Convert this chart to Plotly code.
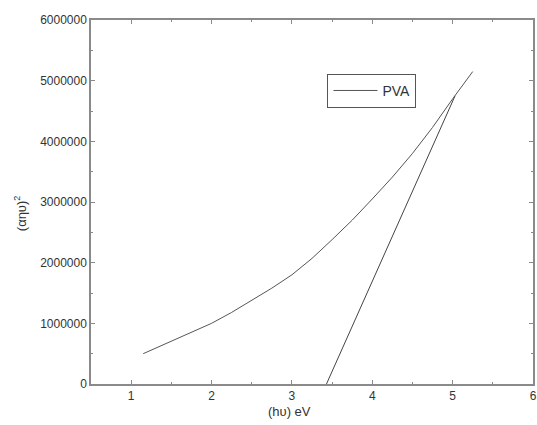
import plotly.graph_objects as go

# Tauc plot data for PVA film
photon_energy = [1.15, 1.3, 1.5, 1.75, 2.0, 2.25, 2.5, 2.75, 3.0, 3.25, 3.5, 3.75, 4.0, 4.25, 4.5, 4.75, 5.0, 5.25]
alpha_hv_sq = [500000, 590000, 700000, 850000, 1000000, 1180000, 1380000, 1580000, 1800000, 2070000, 2380000, 2700000, 3050000, 3410000, 3800000, 4230000, 4700000, 5150000]

# Linear extrapolation to the energy axis
fit_x = [3.43, 5.03]
fit_y = [0, 4750000]

line_color = "#555555"
axis_color = "#8a8a8a"
font = dict(family="Liberation Sans, Arial, sans-serif", size=12, color="#333333")

fig = go.Figure()
fig.add_trace(go.Scatter(x=photon_energy, y=alpha_hv_sq, mode="lines", name="PVA",
                         line=dict(color=line_color, width=1)))
fig.add_trace(go.Scatter(x=fit_x, y=fit_y, mode="lines", showlegend=False,
                         line=dict(color="#444444", width=1)))

axis_common = dict(showline=True, linecolor=axis_color, linewidth=1.5, mirror="ticks",
                   ticks="inside", ticklen=4, tickcolor=axis_color, showgrid=False,
                   zeroline=False, tickfont=font, automargin=False)

fig.update_xaxes(range=[0.5, 6], tickvals=[1, 2, 3, 4, 5, 6],
                 minor=dict(ticks="inside", ticklen=2, tickcolor=axis_color, dtick=0.5, tick0=0.5),
                 **axis_common)
fig.update_yaxes(range=[0, 6000000], tickvals=[0, 1000000, 2000000, 3000000, 4000000, 5000000, 6000000],
                 ticktext=["0", "1000000", "2000000", "3000000", "4000000", "5000000", "6000000"],
                 minor=dict(ticks="inside", ticklen=2, tickcolor=axis_color, dtick=500000, tick0=0),
                 **axis_common)

fig.add_annotation(text="(hυ) eV", xref="paper", yref="paper", x=0.45, y=-0.05,
                   xanchor="center", yanchor="top", showarrow=False,
                   font=dict(family="Liberation Sans, Arial, sans-serif", size=13, color="#333333"))
fig.add_annotation(text="(αηυ)<sup>2</sup>", xref="paper", yref="paper", x=-0.16, y=0.47,
                   xanchor="center", yanchor="middle", showarrow=False, textangle=-90,
                   font=dict(family="Liberation Sans, Arial, sans-serif", size=13, color="#333333"))

fig.update_layout(
    width=537, height=425,
    margin=dict(l=91, r=4, t=20, b=41),
    paper_bgcolor="white", plot_bgcolor="white",
    font=font,
    legend=dict(x=0.535, y=0.852, xanchor="left", yanchor="top",
                bordercolor="#555555", borderwidth=1, bgcolor="white",
                font=dict(family="Liberation Sans, Arial, sans-serif", size=14, color="#333333"),
                itemwidth=44),
)

fig.write_html("out.html")
